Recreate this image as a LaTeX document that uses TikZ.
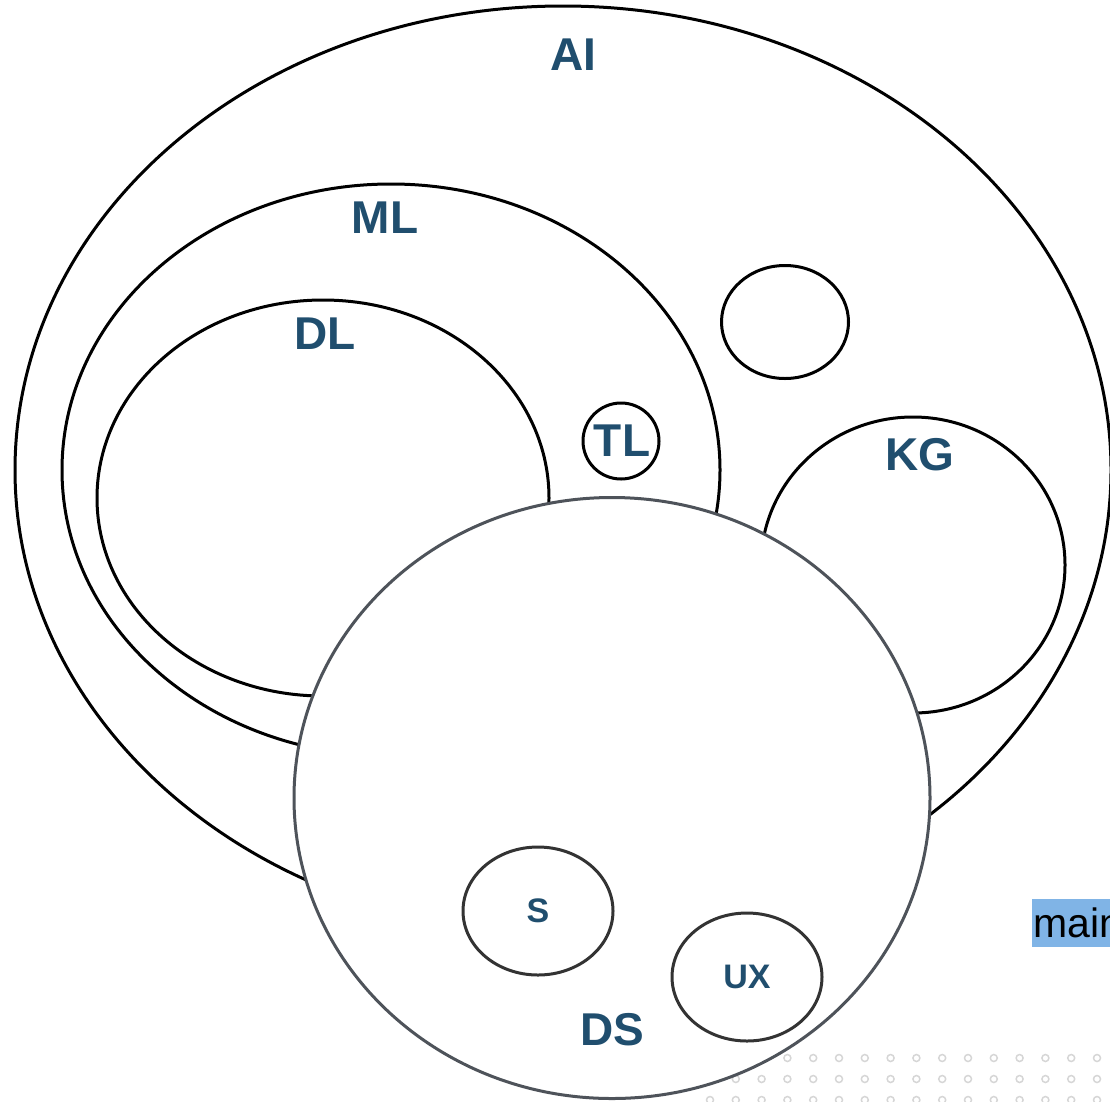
\documentclass[tikz,border=0pt]{standalone}
\usepackage{fontspec}
\setmainfont{Liberation Sans}
\usetikzlibrary{shapes}
\definecolor{labblue}{RGB}{32,78,110}
\definecolor{dsgray}{RGB}{78,83,90}
\definecolor{dotgray}{RGB}{214,214,214}
\definecolor{hlblue}{RGB}{128,180,230}

\begin{document}
\begin{tikzpicture}[x=1pt,y=-1pt,
set/.style={ellipse, draw, line width=3pt, inner sep=0},
lab/.style={inner sep=0, text=labblue, font=\fontsize{46}{50}\selectfont\bfseries},
slab/.style={lab, font=\fontsize{34}{38}\selectfont\bfseries},
dot/.style={circle, draw=dotgray, line width=1.5pt, minimum size=7pt, inner sep=0}]
	\useasboundingbox (0,0) rectangle (1110,1101);
	\clip (0,0) rectangle (1110,1101);
	
	\node[set, minimum width=1096, minimum height=928] (aiset) at (563,470) {};
	\node[set, minimum width=658, minimum height=572] (mlset) at (391,470) {};
	\node[set, minimum width=452, minimum height=396] (dlset) at (323,498) {};
	\node[set, minimum width=127, minimum height=113] (other) at (785,322) {};
	\node[set, circle, minimum size=76] (tlset) at (621,441) {};
	\node[set, minimum width=304, minimum height=296] (kgset) at (913,565) {};
	
	% dotted background
	\foreach \c in {0,...,15}
		\foreach \r in {0,1,2}
			\node[dot] (dot-\c-\r) at ({710+25.8*\c},{1058+21*\r}) {};
	
	\node[set, draw=dsgray, fill=white, minimum width=636, minimum height=601] (dsset) at (612,798) {};
	\node[set, draw=black!80, minimum width=150, minimum height=128] (sset) at (538,911) {};
	\node[set, draw=black!80, minimum width=150, minimum height=128] (uxset) at (747,977) {};
	
	\node[lab] (ai) at (573,55) {AI};
	\node[lab] (ml) at (385,218) {ML};
	\node[lab] (dl) at (325,334) {DL};
	\node[lab] (tl) at (622,441) {TL};
	\node[lab] (kg) at (920,455) {KG};
	\node[lab] (ds) at (612,1030) {DS};
	\node[slab] (s) at (538,911) {S};
	\node[slab] (ux) at (747,977) {UX};
	
	\node[fill=hlblue, anchor=north west, inner xsep=1pt, inner ysep=0, minimum height=48,
		font=\fontsize{41}{44}\selectfont] (main) at (1032,899) {main};
\end{tikzpicture}
\end{document}
